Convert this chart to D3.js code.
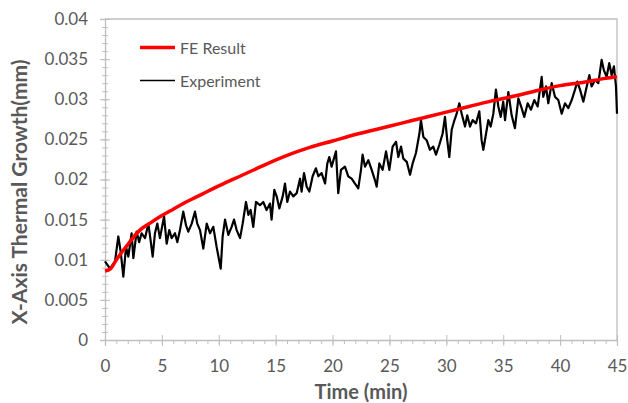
<!DOCTYPE html>
<html>
<head>
<meta charset="utf-8">
<script src="https://cdn.jsdelivr.net/npm/d3@7"></script>
<style>
    body { margin: 0; background: white; }
    .tick text { font-family: Lato, "Open Sans", sans-serif; }
</style>
</head>
<body>
<div id="mainvis"></div>
<script>
// FE simulation result
let feTime = [0, 0.5, 1, 2, 3, 4, 5, 6, 7, 8, 9, 10, 12, 14, 16, 18, 20, 22, 24, 26, 28, 30, 32, 34, 36, 38, 40, 42, 44, 45];
let feValue = [0.0086, 0.0089, 0.0100, 0.0119, 0.0136, 0.0146, 0.0155, 0.0163, 0.0171, 0.0178, 0.0185, 0.0192, 0.0205, 0.0218, 0.0230,
    0.0240, 0.0248, 0.0256, 0.0263, 0.0270, 0.0277, 0.0284, 0.0291, 0.0298, 0.0304, 0.0311, 0.0317, 0.0321, 0.0326, 0.0328];

let expTime = [0, 0.44, 0.88, 1.17, 1.38, 1.61, 1.85, 2.05, 2.34, 2.49, 2.78, 3.0, 3.22, 3.52, 3.81, 4.0, 4.19, 4.39, 4.6, 4.83,
    5.19, 5.42, 5.65, 5.86, 6.15, 6.36, 6.59, 6.88, 7.12, 7.32, 7.62, 7.91, 8.11, 8.35, 8.64, 8.94, 9.23, 9.52, 9.81, 10.17,
    10.34, 10.55, 10.84, 11.13, 11.34, 11.57, 11.87, 12.1, 12.39, 12.6, 12.8, 13.03, 13.27, 13.62, 13.91, 14.2, 14.5, 14.64, 14.88, 15.09,
    15.32, 15.62, 15.82, 16.02, 16.26, 16.55, 16.85, 17.14, 17.28, 17.49, 17.73, 17.96, 18.25, 18.54, 18.75, 19.04, 19.34, 19.54, 19.71, 19.92,
    20.3, 20.5, 20.74, 21.09, 21.38, 21.68, 21.97, 22.26, 22.5, 22.64, 22.85, 23.14, 23.44, 23.73, 23.88, 24.11, 24.4, 24.7, 24.99, 25.28,
    25.58, 25.78, 26.02, 26.22, 26.52, 26.81, 27.04, 27.33, 27.63, 27.77, 27.98, 28.27, 28.56, 28.85, 29.09, 29.38, 29.67, 29.88, 30.08, 30.26,
    30.47, 30.67, 30.91, 31.14, 31.35, 31.64, 31.84, 32.08, 32.31, 32.61, 32.9, 33.1, 33.25, 33.49, 33.69, 33.9, 34.13, 34.36, 34.57, 34.78,
    35.0, 35.16, 35.45, 35.74, 36.03, 36.33, 36.62, 36.85, 37.15, 37.44, 37.73, 38.03, 38.38, 38.52, 38.76, 38.96, 39.26, 39.55, 39.84, 40.14,
    40.43, 40.72, 41.02, 41.31, 41.51, 41.75, 42.04, 42.34, 42.57, 42.77, 43.07, 43.36, 43.65, 43.85, 44.09, 44.32, 44.53, 44.73, 44.91, 45.0];
let expValue = [0.0098, 0.0089, 0.0098, 0.0129, 0.0110, 0.0079, 0.0116, 0.0104, 0.0133, 0.0102, 0.0135, 0.0122, 0.0133, 0.0127, 0.0145, 0.0125, 0.0104, 0.0133, 0.0145, 0.0127,
    0.0154, 0.0120, 0.0137, 0.0127, 0.0133, 0.0122, 0.0137, 0.0160, 0.0143, 0.0135, 0.0145, 0.0160, 0.0145, 0.0137, 0.0114, 0.0145, 0.0133, 0.0141, 0.0116, 0.0089,
    0.0129, 0.0150, 0.0131, 0.0141, 0.0150, 0.0137, 0.0127, 0.0145, 0.0172, 0.0156, 0.0162, 0.0141, 0.0172, 0.0168, 0.0172, 0.0162, 0.0170, 0.0150, 0.0187, 0.0179,
    0.0164, 0.0179, 0.0195, 0.0172, 0.0185, 0.0179, 0.0183, 0.0201, 0.0185, 0.0208, 0.0191, 0.0185, 0.0204, 0.0214, 0.0204, 0.0208, 0.0195, 0.0220, 0.0228, 0.0216,
    0.0235, 0.0183, 0.0212, 0.0216, 0.0204, 0.0201, 0.0195, 0.0189, 0.0212, 0.0231, 0.0216, 0.0224, 0.0212, 0.0199, 0.0191, 0.0220, 0.0212, 0.0235, 0.0212, 0.0241,
    0.0247, 0.0228, 0.0241, 0.0226, 0.0222, 0.0206, 0.0220, 0.0233, 0.0257, 0.0274, 0.0253, 0.0249, 0.0237, 0.0241, 0.0231, 0.0243, 0.0257, 0.0278, 0.0249, 0.0228,
    0.0262, 0.0272, 0.0282, 0.0295, 0.0282, 0.0266, 0.0280, 0.0266, 0.0274, 0.0270, 0.0285, 0.0249, 0.0237, 0.0257, 0.0274, 0.0266, 0.0282, 0.0312, 0.0291, 0.0278,
    0.0297, 0.0274, 0.0309, 0.0280, 0.0264, 0.0301, 0.0289, 0.0278, 0.0295, 0.0287, 0.0299, 0.0291, 0.0328, 0.0303, 0.0316, 0.0295, 0.0320, 0.0303, 0.0299, 0.0282,
    0.0295, 0.0289, 0.0299, 0.0312, 0.0322, 0.0312, 0.0297, 0.0316, 0.0330, 0.0316, 0.0324, 0.0320, 0.0349, 0.0336, 0.0328, 0.0345, 0.0330, 0.0341, 0.0316, 0.0282];

let xTicks = [0, 5, 10, 15, 20, 25, 30, 35, 40, 45];
let yTicks = [0, 0.005, 0.01, 0.015, 0.02, 0.025, 0.03, 0.035, 0.04];
let yTickLabels = ["0", "0.005", "0.01", "0.015", "0.02", "0.025", "0.03", "0.035", "0.04"];
let seriesNames = ["FE Result", "Experiment"];

let width = 628;
let height = 403;
let plotLeft = 105, plotRight = 617, plotTop = 19, plotBottom = 340;
let axisColor = "#bfbfbf";
let textColor = "#595959";

let svg = d3.select("#mainvis")
    .append("svg")
    .attr("width", width)
    .attr("height", height)

let xScale = d3.scaleLinear()
    .domain([0, 45])
    .range([plotLeft, plotRight]);

let yScale = d3.scaleLinear()
    .domain([0, 0.04])
    .range([plotBottom, plotTop]);

// frame on top and right
svg.append("path")
    .attr("d", "M" + plotLeft + "," + plotTop + "H" + plotRight + "V" + plotBottom)
    .attr("fill", "none")
    .attr("stroke", axisColor)
    .attr("stroke-width", 1.3);

// minor ticks
let yMinor = svg.append("g")
    .attr("transform", "translate(" + plotLeft + ",0)")
    .call(d3.axisLeft(yScale).tickValues(d3.range(41).map(i => i / 1000)).tickSize(3).tickFormat(""));
yMinor.selectAll(".tick line").attr("x1", 3).attr("stroke", axisColor);
yMinor.select(".domain").remove();

let xMinor = svg.append("g")
    .attr("transform", "translate(0," + plotBottom + ")")
    .call(d3.axisBottom(xScale).tickValues(d3.range(46)).tickSize(4).tickFormat(""));
xMinor.selectAll(".tick line").attr("stroke", axisColor);
xMinor.select(".domain").remove();

// major axes
let yAxis = svg.append("g")
    .attr("transform", "translate(" + plotLeft + ",0)")
    .call(d3.axisLeft(yScale).tickValues(yTicks).tickSize(5).tickPadding(12)
        .tickFormat((d, i) => yTickLabels[i]));
yAxis.selectAll(".tick line").attr("x1", 5).attr("stroke", axisColor);
yAxis.select(".domain").attr("stroke", axisColor).attr("stroke-width", 1.3);
yAxis.selectAll(".tick text")
    .style("font-size", "17px")
    .attr("fill", textColor);

let xAxis = svg.append("g")
    .attr("transform", "translate(0," + plotBottom + ")")
    .call(d3.axisBottom(xScale).tickValues(xTicks).tickSize(6).tickPadding(14));
xAxis.selectAll(".tick line").attr("y1", -5).attr("stroke", axisColor);
xAxis.select(".domain").attr("stroke", axisColor).attr("stroke-width", 1.3);
xAxis.selectAll(".tick text")
    .style("font-size", "17px")
    .attr("fill", textColor);

// axis titles
svg.append("text")
    .attr("x", (plotLeft + plotRight) / 2)
    .attr("y", 399)
    .attr("text-anchor", "middle")
    .attr("fill", textColor)
    .style("font", "bold 20px Lato")
    .text("Time (min)");

svg.append("text")
    .attr("transform", "translate(27," + 192 + ") rotate(-90)")
    .attr("text-anchor", "middle")
    .attr("fill", textColor)
    .style("font", "bold 21px Lato")
    .text("X-Axis Thermal Growth(mm)");

// lines
let expData = expTime.map((t, i) => [t, expValue[i]]);
let feData = feTime.map((t, i) => [t, feValue[i]]);

let line = d3.line()
    .x(d => xScale(d[0]))
    .y(d => yScale(d[1]));

svg.append("path")
    .attr("d", line(expData))
    .attr("fill", "none")
    .attr("stroke", "black")
    .attr("stroke-width", 2.2)
    .attr("stroke-linejoin", "round");

svg.append("path")
    .attr("d", line.curve(d3.curveMonotoneX)(feData))
    .attr("fill", "none")
    .attr("stroke", "#ff0000")
    .attr("stroke-width", 3.5);

// legend
let legendColors = ["#ff0000", "black"];
let legendWidths = [3.5, 1.3];

let legend = svg.selectAll(".legend")
    .data(seriesNames)
    .enter()
    .append("g")
    .attr("class", "legend")
    .attr("transform", (d, i) => "translate(140," + (47.5 + i * 33) + ")");

legend.append("line")
    .attr("x1", 0)
    .attr("x2", 35)
    .attr("stroke", (d, i) => legendColors[i])
    .attr("stroke-width", (d, i) => legendWidths[i]);

legend.append("text")
    .attr("x", 40)
    .attr("y", 6)
    .attr("fill", textColor)
    .style("font", "16px Lato")
    .text(d => d);
</script>
</body>
</html>
